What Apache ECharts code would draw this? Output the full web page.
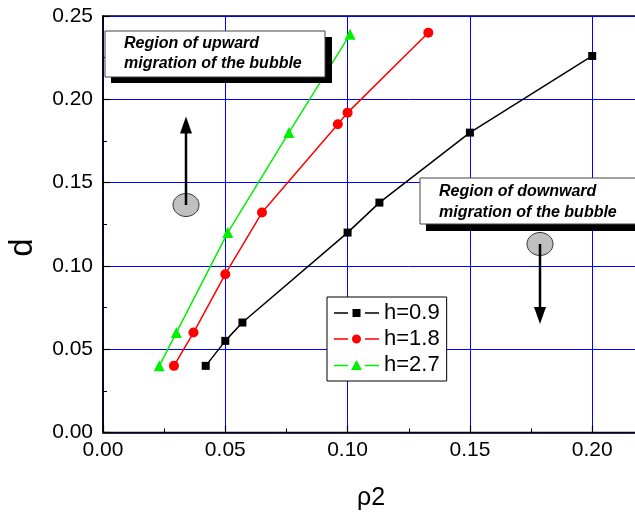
<!DOCTYPE html>
<html>
<head>
<meta charset="utf-8">
<script src="https://cdn.jsdelivr.net/npm/echarts@6/dist/echarts.min.js"></script>
<style>
  html, body { margin: 0; padding: 0; background: #fff; overflow: hidden; width: 635px; height: 515px; }
  #chart { width: 720px; height: 515px; }
</style>
</head>
<body>
<div id="chart"></div>
<script>
// ---- data ----
const seriesNames = ['h=0.9', 'h=1.8', 'h=2.7'];
const rho_h09 = [0.042, 0.050, 0.057, 0.100, 0.113, 0.150, 0.200];
const d_h09   = [0.040, 0.055, 0.066, 0.120, 0.138, 0.180, 0.226];
const rho_h18 = [0.029, 0.037, 0.050, 0.065, 0.096, 0.100, 0.133];
const d_h18   = [0.040, 0.060, 0.095, 0.132, 0.185, 0.192, 0.240];
const rho_h27 = [0.023, 0.030, 0.051, 0.076, 0.101];
const d_h27   = [0.040, 0.060, 0.120, 0.180, 0.239];
const xTicks = [0.00, 0.05, 0.10, 0.15, 0.20];
const yTicks = [0.00, 0.05, 0.10, 0.15, 0.20, 0.25];
const noteUp = ['Region of upward', 'migration of the bubble'];
const noteDown = ['Region of downward', 'migration of the bubble'];
const xName = 'ρ2';
const yName = 'd';

function pairs(xs, ys) { return xs.map((x, i) => [x, ys[i]]); }

const FONT = '"Liberation Sans", Arial, sans-serif';
const chart = echarts.init(document.getElementById('chart'), null, { renderer: 'canvas', width: 720, height: 515 });

// legend icons: line - gap - marker - gap - line (45 x 12 box)
const iconRect = 'path://M0 5.25H14V6.75H0Z M18.5 2H26.5V10H18.5Z M31 5.25H45V6.75H31Z';
const iconCircle = 'path://M0 5.25H14V6.75H0Z M18 6A4.5 4.5 0 1 0 27 6A4.5 4.5 0 1 0 18 6Z M31 5.25H45V6.75H31Z';
const iconTri = 'path://M0 5.25H14V6.75H0Z M22.5 0.5L28 10.5H17Z M31 5.25H45V6.75H31Z';

const axisCommon = {
  type: 'value',
  min: 0,
  max: 0.25,
  interval: 0.05,
  axisLine: { show: true, onZero: false, lineStyle: { color: '#000', width: 1.5 } },
  axisTick: { show: true, inside: true, length: 7, lineStyle: { color: '#000', width: 1.2 } },
  minorTick: { show: true, splitNumber: 2, length: 4, lineStyle: { color: '#000', width: 1 } },
  splitLine: { show: true, lineStyle: { color: '#0000ff', width: 1 } },
  axisLabel: {
    color: '#000', fontSize: 21, fontFamily: FONT, margin: 10,
    formatter: v => v.toFixed(2)
  }
};

const option = {
  animation: false,
  backgroundColor: '#fff',
  grid: {
    left: 103, top: 16, right: 5.5, bottom: 82.5,
    outerBoundsMode: 'none',
    containLabel: false,
    show: true, borderColor: '#000', borderWidth: 1.5, backgroundColor: 'transparent'
  },
  xAxis: Object.assign({}, axisCommon, {
    axisLabel: Object.assign({}, axisCommon.axisLabel, { margin: 7 })
  }),
  yAxis: Object.assign({}, axisCommon),
  legend: {
    orient: 'vertical',
    left: 327, top: 297,
    padding: [5, 7, 5, 7],
    itemGap: 4,
    itemWidth: 45,
    itemHeight: 12,
    symbolKeepAspect: true,
    backgroundColor: '#fff',
    borderColor: '#000',
    borderWidth: 1,
    borderRadius: 0,
    textStyle: { color: '#000', fontSize: 22, fontFamily: FONT },
    data: [
      { name: seriesNames[0], icon: iconRect },
      { name: seriesNames[1], icon: iconCircle },
      { name: seriesNames[2], icon: iconTri }
    ]
  },
  series: [
    {
      name: seriesNames[0], type: 'line', data: pairs(rho_h09, d_h09),
      symbol: 'rect', symbolSize: 8,
      lineStyle: { color: '#000', width: 1.5 }, itemStyle: { color: '#000' }
    },
    {
      name: seriesNames[1], type: 'line', data: pairs(rho_h18, d_h18),
      symbol: 'circle', symbolSize: 10,
      lineStyle: { color: '#ff0000', width: 1.5 }, itemStyle: { color: '#ff0000' }
    },
    {
      name: seriesNames[2], type: 'line', data: pairs(rho_h27, d_h27),
      symbol: 'triangle', symbolSize: 11,
      lineStyle: { color: '#00f000', width: 1.5 }, itemStyle: { color: '#00f000' }
    }
  ],
  graphic: [
    // axis names
    { type: 'text', x: 22.5, y: 247.5, rotation: Math.PI / 2,
      style: { text: yName, fill: '#000', font: '33px ' + FONT, textAlign: 'center', textVerticalAlign: 'middle' } },
    { type: 'text', x: 371, y: 498,
      style: { text: xName, fill: '#000', font: '25px ' + FONT, textAlign: 'center', textVerticalAlign: 'middle' } },
    // upward note box
    { type: 'rect', shape: { x: 111, y: 37, width: 221, height: 46 }, style: { fill: '#000' }, z: 10 },
    { type: 'rect', shape: { x: 105, y: 31, width: 220, height: 46 }, style: { fill: '#fff', stroke: '#444', lineWidth: 1 }, z: 11 },
    { type: 'text', x: 124, y: 44, z: 12,
      style: { text: noteUp[0], fill: '#000', font: 'italic bold 16px ' + FONT, textVerticalAlign: 'middle' } },
    { type: 'text', x: 124, y: 64, z: 12,
      style: { text: noteUp[1], fill: '#000', font: 'italic bold 16px ' + FONT, textVerticalAlign: 'middle' } },
    // downward note box
    { type: 'rect', shape: { x: 426, y: 184, width: 300, height: 47 }, style: { fill: '#000' }, z: 10 },
    { type: 'rect', shape: { x: 420, y: 178, width: 300, height: 46 }, style: { fill: '#fff', stroke: '#444', lineWidth: 1 }, z: 11 },
    { type: 'text', x: 439, y: 192, z: 12,
      style: { text: noteDown[0], fill: '#000', font: 'italic bold 16px ' + FONT, textVerticalAlign: 'middle' } },
    { type: 'text', x: 439, y: 213, z: 12,
      style: { text: noteDown[1], fill: '#000', font: 'italic bold 16px ' + FONT, textVerticalAlign: 'middle' } },
    // upward bubble + arrow
    { type: 'ellipse', shape: { cx: 186, cy: 205, rx: 13, ry: 11.5 }, style: { fill: '#c0c0c0', stroke: '#333', lineWidth: 1 }, z: 10 },
    { type: 'line', shape: { x1: 186, y1: 205, x2: 186, y2: 130 }, style: { stroke: '#000', lineWidth: 2.5 }, z: 11 },
    { type: 'polygon', shape: { points: [[186, 116.5], [180, 133.5], [192, 133.5]] }, style: { fill: '#000' }, z: 11 },
    // downward bubble + arrow
    { type: 'ellipse', shape: { cx: 540, cy: 244, rx: 13, ry: 11.5 }, style: { fill: '#c0c0c0', stroke: '#333', lineWidth: 1 }, z: 10 },
    { type: 'line', shape: { x1: 540, y1: 244, x2: 540, y2: 310 }, style: { stroke: '#000', lineWidth: 2.5 }, z: 11 },
    { type: 'polygon', shape: { points: [[540, 324], [534, 307], [546, 307]] }, style: { fill: '#000' }, z: 11 }
  ]
};

chart.setOption(option);
</script>
</body>
</html>
